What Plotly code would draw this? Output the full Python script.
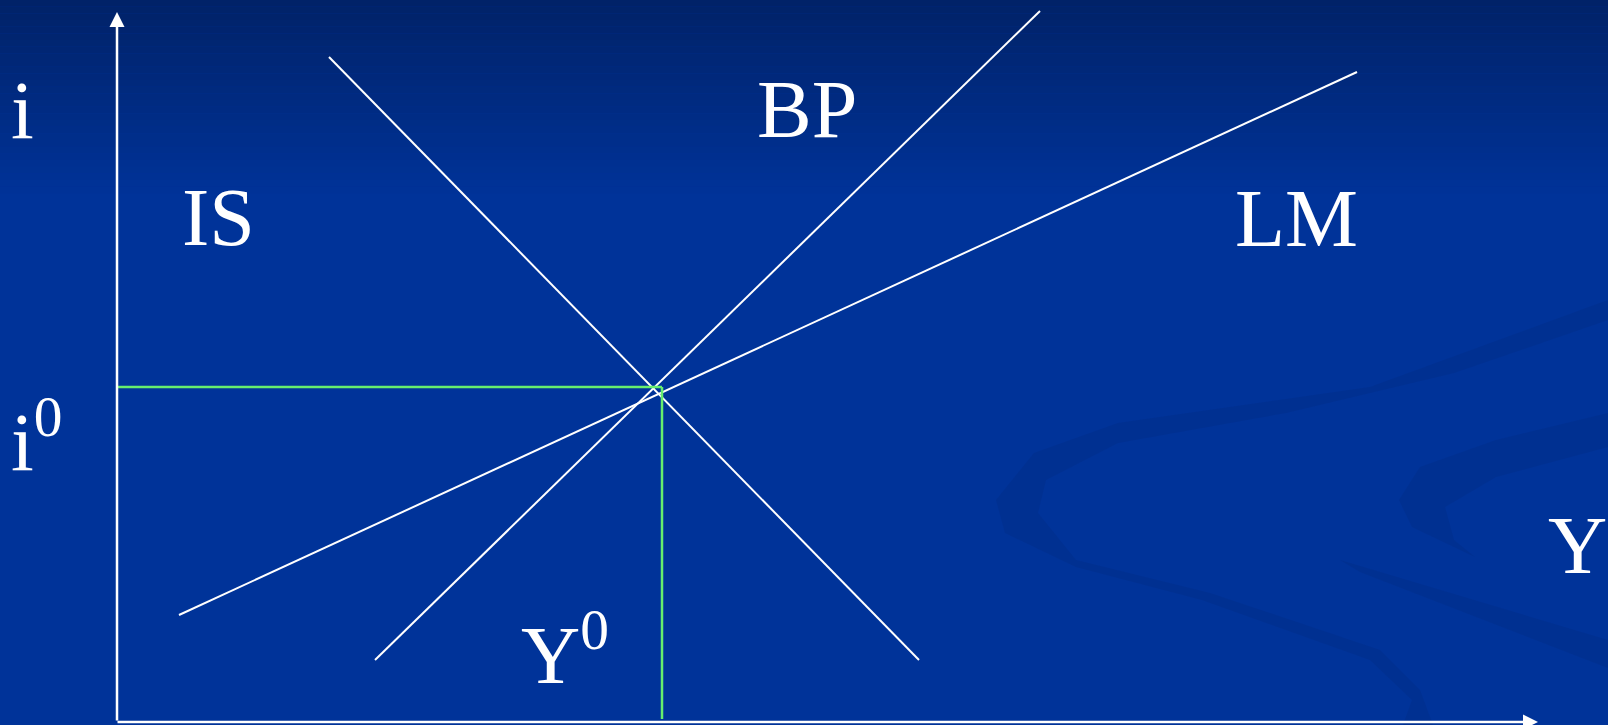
import plotly.graph_objects as go

W, H = 1608, 725
# origin of the diagram (where the two axes meet), in screen pixels
OX, OY = 117, 722

# curve end points, diagram units (Y to the right, i upwards)
is_y = [212, 802]
is_i = [665, 62]
bp_y = [258, 923]
bp_i = [62, 711]
lm_y = [62, 1240]
lm_i = [107, 650]

# equilibrium
y0 = 545
i0 = 335

# axis extents
y_axis_top = 710
x_axis_end = 1421

WHITE = "#ffffff"
GREEN = "#66ee6e"
FONT = "Liberation Serif"


def to_data(px, py):
    return px - OX, OY - py


def path(points):
    pts = [to_data(*p) for p in points]
    s = "M %s,%s " % pts[0]
    for p in pts[1:]:
        s += "L %s,%s " % p
    return s + "Z"


fig = go.Figure()

# background: dark navy fading into royal blue
top = (1, 34, 104)
bot = (0, 51, 153)
n = 30
shapes = []
for k in range(n):
    t = k / (n - 1)
    c = tuple(round(a + (b - a) * t) for a, b in zip(top, bot))
    y_hi = 1 - k * 200 / n / H
    y_lo = 1 - (k + 1) * 200 / n / H
    shapes.append(dict(type="rect", xref="paper", yref="paper", x0=0, x1=1,
                       y0=y_lo if k < n - 1 else 0, y1=y_hi, layer="below",
                       line=dict(width=0), fillcolor="rgb(%d,%d,%d)" % c))

# decorative swirls on the right
swirl_fill = "rgba(0,40,120,0.22)"
swirl1 = [(1608, 300), (1370, 387), (1118, 423), (1034, 453), (996, 500),
          (1005, 533), (1076, 567), (1202, 600), (1370, 660), (1412, 700),
          (1403, 725), (1433, 725), (1420, 690), (1380, 650), (1210, 593),
          (1076, 560), (1038, 513), (1046, 480), (1118, 443), (1286, 413),
          (1454, 373), (1608, 320)]
swirl2 = [(1608, 413), (1496, 440), (1420, 467), (1399, 500), (1412, 527),
          (1475, 557), (1454, 540), (1445, 507), (1496, 477), (1608, 447)]
swirl3 = [(1340, 560), (1608, 640), (1608, 668), (1360, 572)]
for sw in (swirl1, swirl2, swirl3):
    shapes.append(dict(type="path", xref="x", yref="y", path=path(sw),
                       layer="below", line=dict(width=0), fillcolor=swirl_fill))

# green guide lines to the equilibrium
shapes.append(dict(type="line", xref="x", yref="y", x0=0, x1=y0, y0=i0, y1=i0,
                   line=dict(color=GREEN, width=2.5)))
shapes.append(dict(type="line", xref="x", yref="y", x0=y0, x1=y0, y0=i0, y1=3,
                   line=dict(color=GREEN, width=2.5)))

for name, xs, ys in [("IS", is_y, is_i), ("BP", bp_y, bp_i), ("LM", lm_y, lm_i)]:
    fig.add_trace(go.Scatter(x=xs, y=ys, mode="lines", name=name,
                             line=dict(color=WHITE, width=2), hoverinfo="skip"))

annotations = []
# axes with arrow heads
annotations.append(dict(x=0, y=y_axis_top, ax=0, ay=0, xref="x", yref="y",
                        axref="x", ayref="y", showarrow=True, arrowhead=2,
                        arrowsize=1.2, arrowwidth=2.5, arrowcolor=WHITE, text=""))
annotations.append(dict(x=x_axis_end, y=0, ax=-1, ay=0, xref="x", yref="y",
                        axref="x", ayref="y", showarrow=True, arrowhead=2,
                        arrowsize=1.2, arrowwidth=2.5, arrowcolor=WHITE, text=""))


def label(text, px, py, anchor="center"):
    x, y = to_data(px, py)
    annotations.append(dict(x=x, y=y, xref="x", yref="y", text=text,
                            showarrow=False, xanchor=anchor, yanchor="middle",
                            font=dict(family=FONT, size=82, color=WHITE)))


label("i", 22, 110)
label("IS", 218, 217)
label("BP", 807, 109)
label("LM", 1296, 218)
label("Y", 1577, 545)
label("i<sup>0</sup>", 9, 436, "left")
label("Y<sup>0</sup>", 519, 649, "left")

fig.update_layout(
    width=W, height=H,
    margin=dict(l=0, r=0, t=0, b=0),
    paper_bgcolor="rgb(0,51,153)",
    plot_bgcolor="rgba(0,0,0,0)",
    showlegend=False,
    shapes=shapes,
    annotations=annotations,
    xaxis=dict(range=[-OX, W - OX], visible=False, fixedrange=True),
    yaxis=dict(range=[OY - H, OY], visible=False, fixedrange=True),
)

fig.write_html("out.html", config={"displayModeBar": False},
               post_script="document.body.style.margin='0';")
